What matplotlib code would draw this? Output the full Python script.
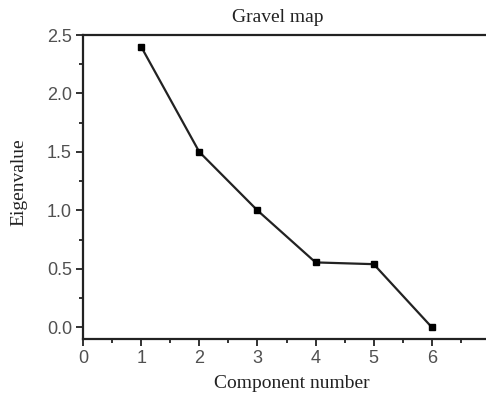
import matplotlib
matplotlib.use("Agg")
import matplotlib.pyplot as plt
from matplotlib.ticker import MultipleLocator

components = [1, 2, 3, 4, 5, 6]
eigenvalues = [2.40, 1.50, 1.00, 0.555, 0.54, 0.0]
xticks = [0, 1, 2, 3, 4, 5, 6, 7]
yticks = [0.0, 0.5, 1.0, 1.5, 2.0, 2.5]

fig = plt.figure(figsize=(4.86, 3.94), dpi=100)
ax = fig.add_axes([83/486, 55/394, (490-83)/486, (339-35)/394])
ax.plot(components, eigenvalues, color="#222222", lw=1.6, marker="s", ms=4.5,
        markerfacecolor="black", markeredgecolor="black")
ax.set_xlim(0, 7)
ax.set_ylim(-0.1, 2.5)
ax.set_xticks(xticks)
ax.set_yticks(yticks)
ax.set_yticklabels([f"{v:.1f}" for v in yticks])
ax.xaxis.set_minor_locator(MultipleLocator(0.5))
ax.yaxis.set_minor_locator(MultipleLocator(0.25))
ax.tick_params(which="both", direction="out", width=1.3, colors="#222222",
               labelcolor="#505050", labelsize=13)
ax.tick_params(which="major", length=5, pad=3)
ax.tick_params(which="minor", length=3)
for lab in ax.get_xticklabels() + ax.get_yticklabels():
    lab.set_fontfamily("Liberation Sans")
for s in ax.spines.values():
    s.set_linewidth(1.6)
    s.set_color("#222222")
ax.spines["right"].set_visible(False)

fig.text(278/486, 1 - 18/394, "Gravel map", ha="center", va="center",
         fontfamily="Liberation Serif", fontsize=14, color="#222222")
fig.text(292/486, 1 - 383/394, "Component number", ha="center", va="center",
         fontfamily="Liberation Serif", fontsize=14, color="#222222")
fig.text(19/486, 1 - 182/394, "Eigenvalue", ha="center", va="center", rotation=90,
         fontfamily="Liberation Serif", fontsize=14, color="#222222")

fig.savefig("out.png", dpi=100)
